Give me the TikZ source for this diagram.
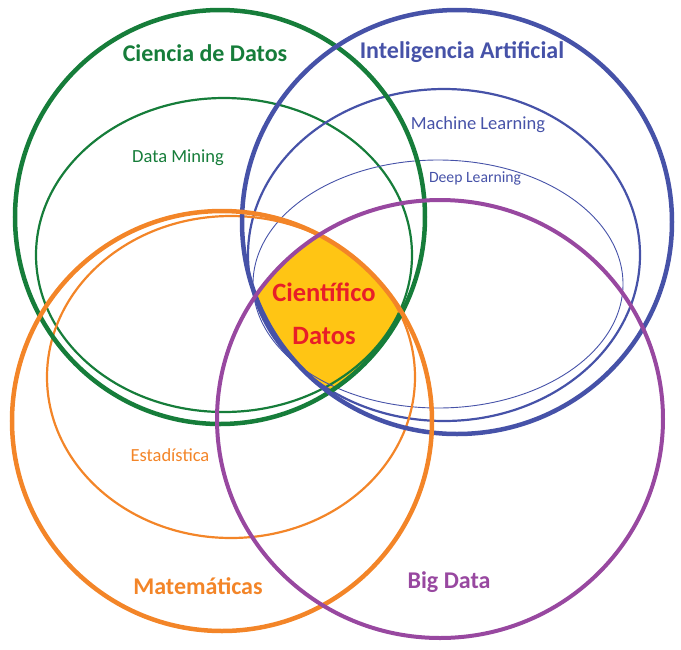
\documentclass[tikz,border=0pt]{standalone}
\usepackage{fontspec}
\setmainfont{Carlito}
\usetikzlibrary{positioning}

\definecolor{cdgreen}{RGB}{22,125,58}
\definecolor{iablue}{RGB}{70,82,168}
\definecolor{matorange}{RGB}{243,133,40}
\definecolor{bdpurple}{RGB}{152,72,160}
\definecolor{coreyellow}{RGB}{255,197,20}
\definecolor{corered}{RGB}{232,30,40}

\tikzset{x=1pt, y=-1pt,
  bigring/.style={line width=4.5pt},
  subring/.style={line width=2.2pt},
  areatitle/.style={font=\bfseries\fontsize{24}{28}\selectfont},
  subtitle/.style={font=\fontsize{18.5}{22}\selectfont},
  coretext/.style={font=\bfseries\fontsize{26.5}{30}\selectfont, text=corered}}

\begin{document}
\begin{tikzpicture}
\useasboundingbox (0,0) rectangle (681,649);

% zona comun
\begin{scope}
  \clip (220,217) ellipse [x radius=205pt, y radius=207pt];
  \clip (457,222) ellipse [x radius=215pt, y radius=212pt];
  \clip (222,421) ellipse [x radius=210pt, y radius=210pt];
  \fill[coreyellow] (440,419) ellipse [x radius=223pt, y radius=219pt];
\end{scope}

% anillos interiores
\draw[subring, cdgreen] (224,255) ellipse [x radius=188pt, y radius=157pt];
\draw[subring, iablue] (444,255) ellipse [x radius=196pt, y radius=166pt];
\draw[iablue, line width=0.9pt] (438,284) ellipse [x radius=185pt, y radius=124pt];
\draw[subring, matorange] (231,377) ellipse [x radius=184pt, y radius=161pt];

% anillos grandes
\draw[bigring, cdgreen] (220,217) ellipse [x radius=205pt, y radius=207pt];
\draw[bigring, iablue] (457,222) ellipse [x radius=215pt, y radius=212pt];
\draw[bigring, matorange] (222,421) ellipse [x radius=210pt, y radius=210pt];
\draw[bigring, bdpurple, line width=4pt] (440,419) ellipse [x radius=223pt, y radius=219pt];

% textos
\node[areatitle, text=cdgreen] (cd) at (205,53) {Ciencia de Datos};
\node[areatitle, text=iablue] (ia) at (462,52) {Inteligencia Artificial};
\node[subtitle, text=cdgreen] (dm) at (178,158) {Data Mining};
\node[subtitle, text=iablue] (ml) at (478,125) {Machine Learning};
\node[subtitle, text=iablue, font=\fontsize{15.7}{18}\selectfont] (dl) at (475,178) {Deep Learning};
\node[subtitle, text=matorange] (est) at (170,455) {Estadística};
\node[areatitle, text=matorange] (mat) at (198,586) {Matemáticas};
\node[areatitle, text=bdpurple] (bd) at (449,582) {Big Data};
\node[coretext] (cient) at (324,292) {Científico};
\node[coretext, below=44pt of cient.center, anchor=center] (datos) {Datos};
\end{tikzpicture}
\end{document}
